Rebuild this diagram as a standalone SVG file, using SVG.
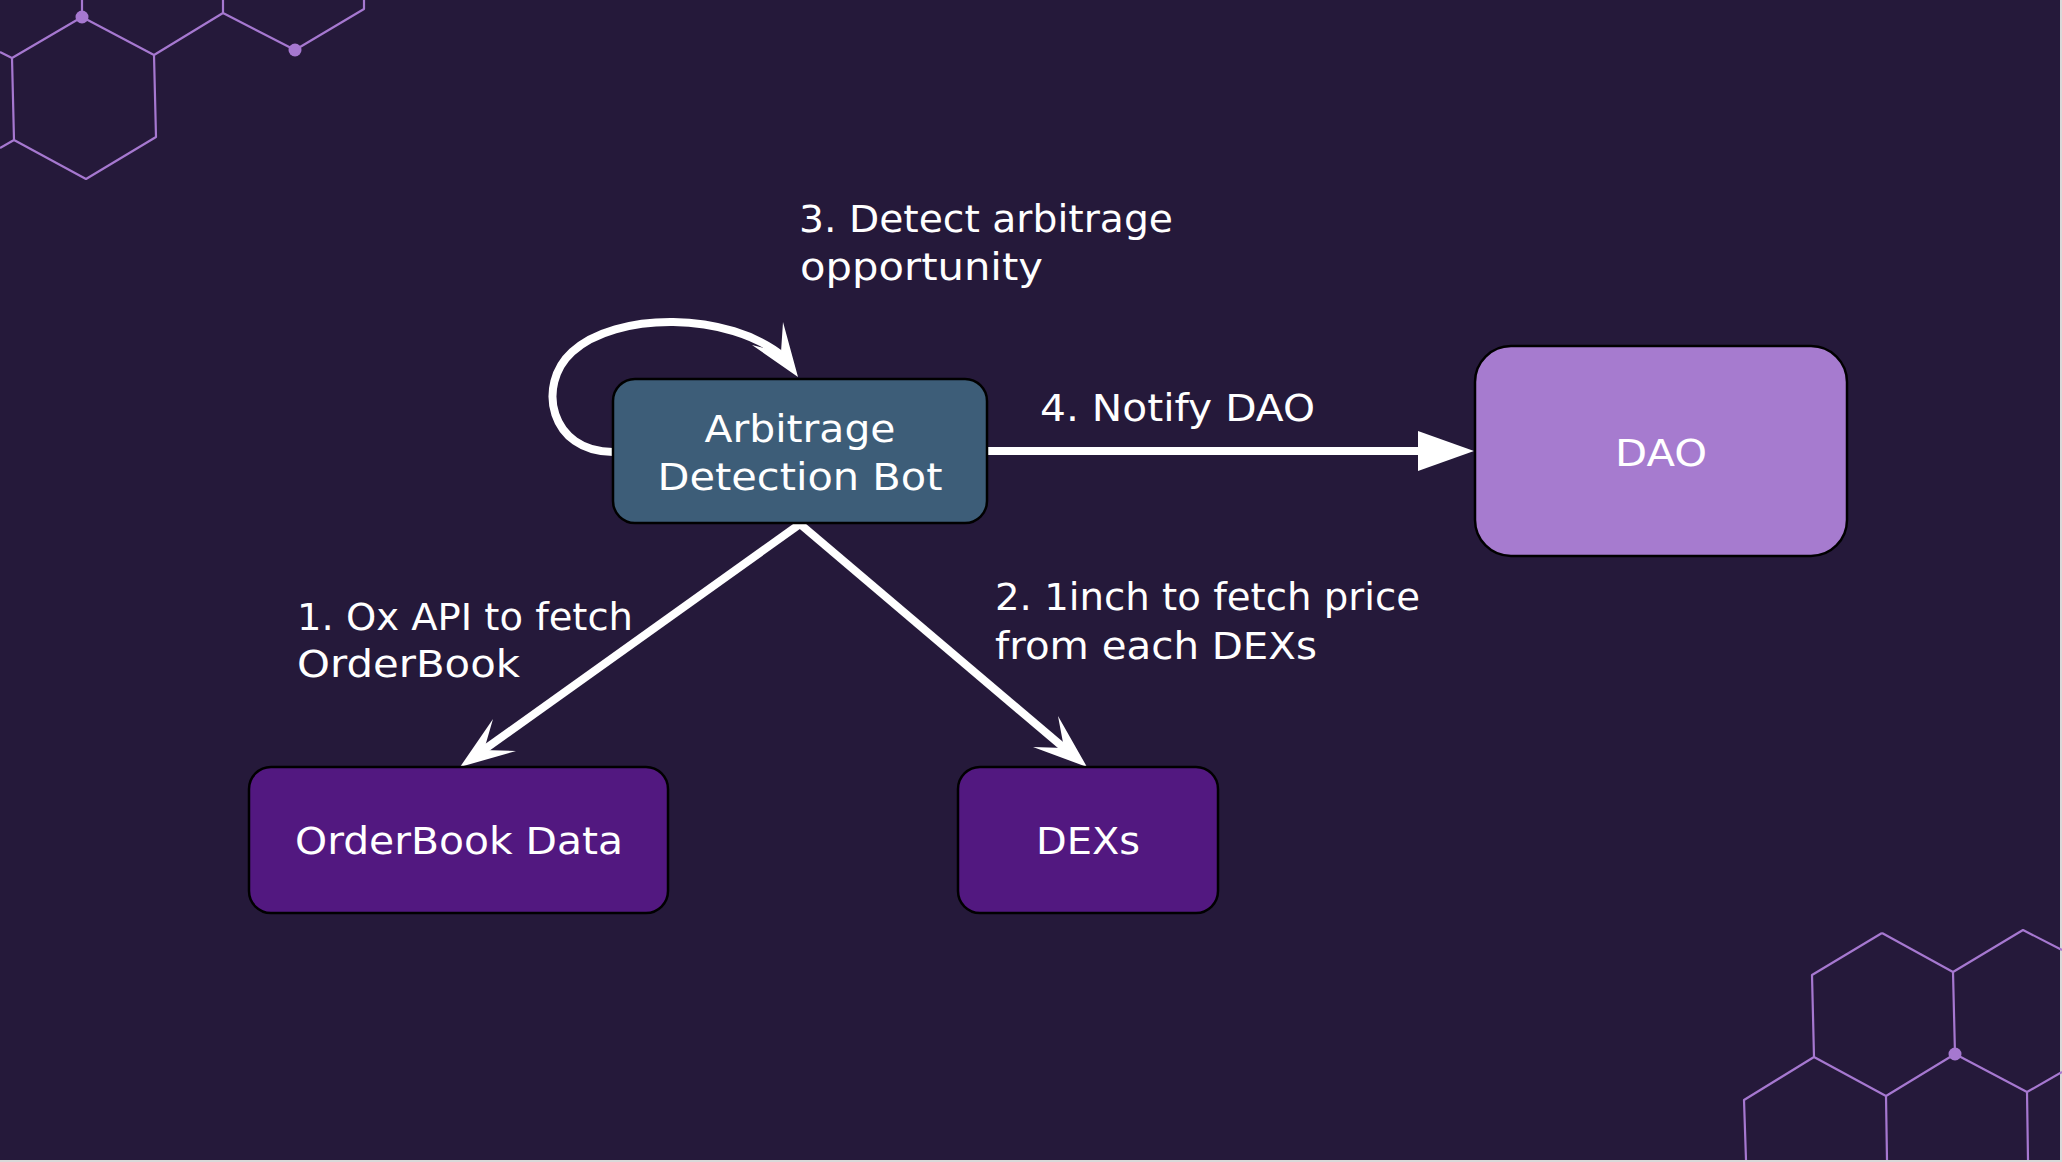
<svg xmlns="http://www.w3.org/2000/svg" width="2062" height="1162" viewBox="0 0 2062 1162">
<style>
.hex{fill:none;stroke:#a678d0;stroke-width:2.2;stroke-linejoin:round}
.dot{fill:#a678d0}
.node{stroke:#000;stroke-width:2.5}
.t{font-family:"DejaVu Sans","Open Sans","Liberation Sans",sans-serif;font-size:37px;fill:#fff}
.c{text-anchor:middle}
.edge{fill:none;stroke:#fff;stroke-width:8}
.head{fill:#fff;stroke:none}
</style>
<rect width="2062" height="1162" fill="#25193a"/>
<rect x="2060" y="0" width="2" height="1162" fill="#d9d9d9"/>
<rect x="0" y="1160" width="2062" height="2" fill="#d9d9d9"/>
<g id="decor">
<path class="hex" d="M82 0V17L154 55L156 137L86 179L14 140L12 58L82 17M12 58L0 52M14 140L0 148M154 55L223 13V0M223 13L295 50L364 9V0"/>
<circle class="dot" cx="82" cy="17" r="6.5"/>
<circle class="dot" cx="295" cy="50" r="6.5"/>
<path class="hex" d="M1882 933L1953 972L2023 930L2062 950M1882 933L1812 975L1814 1057L1886 1096L1955 1054L1953 972M1955 1054L2027 1092L2062 1072M1814 1057L1744 1100L1746 1160M1886 1096L1887 1160M2027 1092L2028 1160"/>
<circle class="dot" cx="1955" cy="1054" r="6.5"/>
</g>
<g id="connectors">
<path class="edge" d="M800 524L478 754"/>
<polygon class="head" points="460,767 493,719 484,750 516,751"/>
<path class="edge" d="M800 524L1070 753"/>
<polygon class="head" points="1087,767 1033,747 1064,748 1058,716"/>
<path class="edge" d="M987 451H1422"/>
<polygon class="head" points="1474,451 1418,431 1418,471"/>
<path class="edge" d="M613 452C550 452 536 385 572 352C615 312 728 310 785 358"/>
<polygon class="head" points="798,377 752,345 781,352 783,322"/>
<text class="t" x="799" y="232" textLength="374" lengthAdjust="spacingAndGlyphs">3. Detect arbitrage</text>
<text class="t" x="800" y="280" textLength="243" lengthAdjust="spacingAndGlyphs">opportunity</text>
<text class="t" x="1040" y="421" textLength="275" lengthAdjust="spacingAndGlyphs">4. Notify DAO</text>
<text class="t" x="297" y="630" textLength="336" lengthAdjust="spacingAndGlyphs">1. Ox API to fetch</text>
<text class="t" x="297" y="677" textLength="223" lengthAdjust="spacingAndGlyphs">OrderBook</text>
<text class="t" x="995" y="610" textLength="425" lengthAdjust="spacingAndGlyphs">2. 1inch to fetch price</text>
<text class="t" x="995" y="659" textLength="322" lengthAdjust="spacingAndGlyphs">from each DEXs</text>
</g>
<g id="bot">
<rect class="node" x="613" y="379" width="374" height="144" rx="22" fill="#3d5d78"/>
<text class="t c" x="800" y="442" textLength="191" lengthAdjust="spacingAndGlyphs">Arbitrage</text>
<text class="t c" x="800" y="490" textLength="285" lengthAdjust="spacingAndGlyphs">Detection Bot</text>
</g>
<g id="dao">
<rect class="node" x="1475" y="346" width="372" height="210" rx="36" fill="#a67bcf"/>
<text class="t c" x="1661" y="466" textLength="92" lengthAdjust="spacingAndGlyphs">DAO</text>
</g>
<g id="orderbook">
<rect class="node" x="249" y="767" width="419" height="146" rx="22" fill="#521880"/>
<text class="t c" x="459" y="854" textLength="328" lengthAdjust="spacingAndGlyphs">OrderBook Data</text>
</g>
<g id="dexs">
<rect class="node" x="958" y="767" width="260" height="146" rx="22" fill="#521880"/>
<text class="t c" x="1088" y="854" textLength="104" lengthAdjust="spacingAndGlyphs">DEXs</text>
</g>
</svg>
